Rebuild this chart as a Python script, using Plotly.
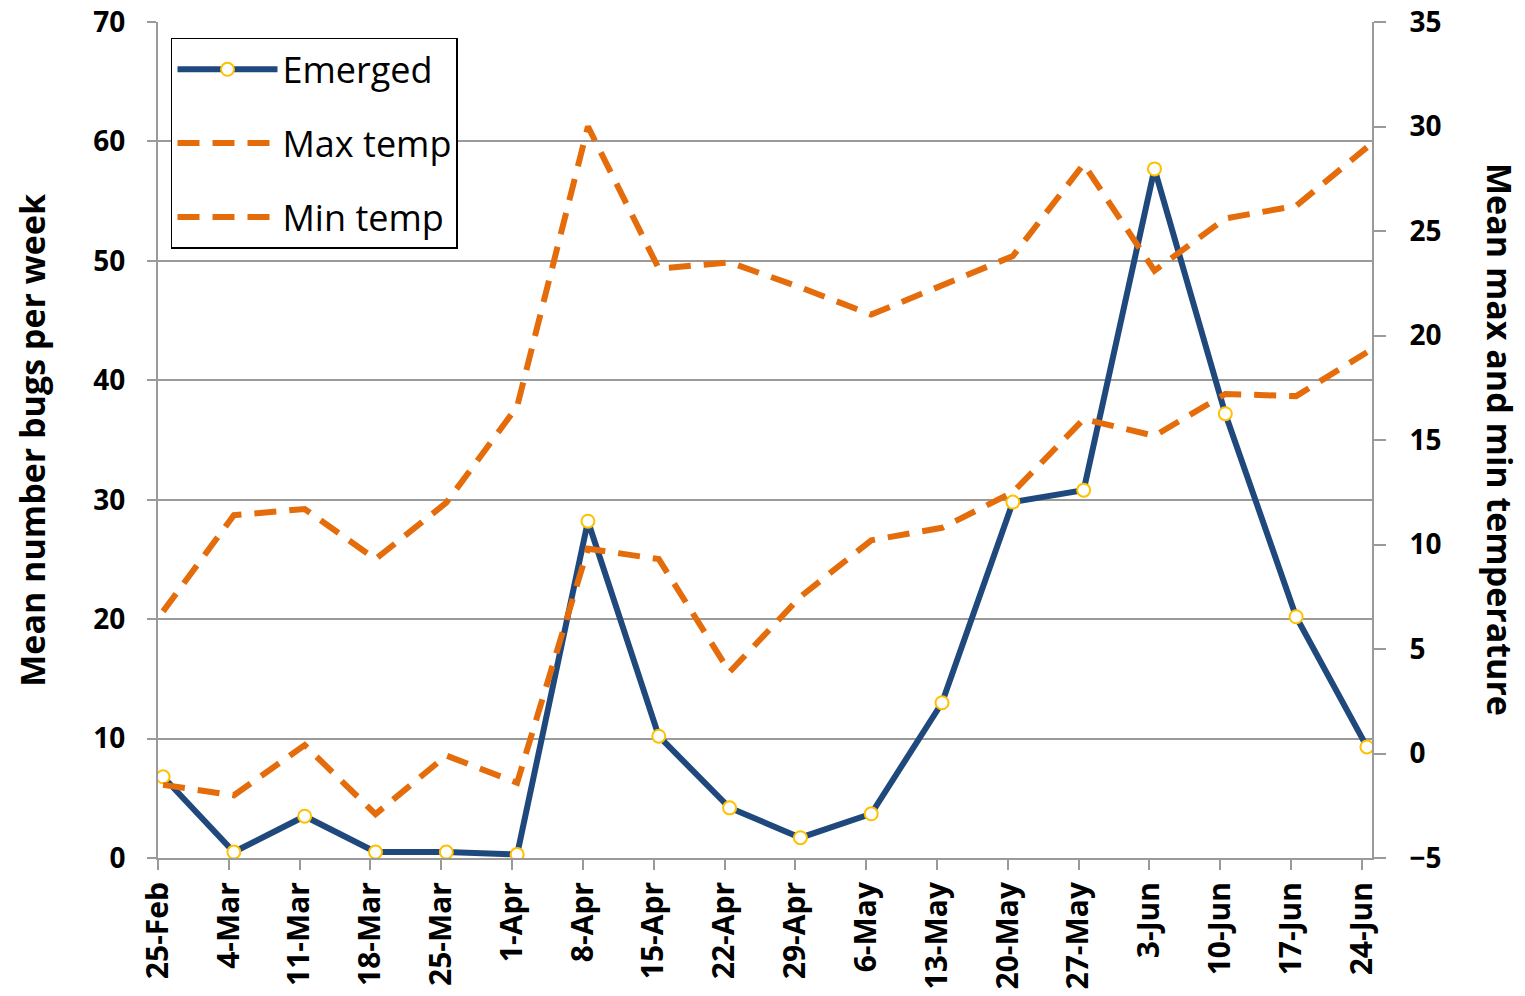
import plotly.graph_objects as go

weeks = ["25-Feb", "4-Mar", "11-Mar", "18-Mar", "25-Mar", "1-Apr", "8-Apr", "15-Apr",
         "22-Apr", "29-Apr", "6-May", "13-May", "20-May", "27-May", "3-Jun", "10-Jun",
         "17-Jun", "24-Jun"]
emerged = [6.8, 0.5, 3.5, 0.5, 0.5, 0.3, 28.2, 10.2, 4.2, 1.7, 3.7, 13.0, 29.8, 30.8,
           57.7, 37.2, 20.2, 9.3]
max_temp = [6.8, 11.4, 11.7, 9.3, 12.0, 16.6, 30.0, 23.2, 23.5, 22.3, 21.0, 22.4, 23.8,
            28.2, 23.1, 25.6, 26.2, 29.0]
min_temp = [-1.5, -2.0, 0.4, -2.9, -0.1, -1.4, 9.8, 9.3, 3.9, 7.5, 10.2, 10.8, 12.5,
            16.0, 15.2, 17.2, 17.1, 19.2]

# date axis: one unit per day, weekly points sit in the middle of their day
day = [7 * i for i in range(len(weeks))]
xpos = [d + 0.5 for d in day]

FONT = "Open Sans"
BLUE = "#1F497D"
ORANGE = "#E46C0A"
GRID = "#9A9A9A"

fig = go.Figure()

fig.add_trace(go.Scatter(
    x=xpos, y=emerged, name="Emerged", mode="lines+markers", legendgroup="a",
    line=dict(color=BLUE, width=6),
    marker=dict(size=13, color="white", line=dict(color="#FFC000", width=2)),
))
fig.add_trace(go.Scatter(
    x=xpos, y=max_temp, name="Max temp", mode="lines", yaxis="y2", legendgroup="b",
    line=dict(color=ORANGE, width=6, dash="22px,13px"),
))
fig.add_trace(go.Scatter(
    x=xpos, y=min_temp, name="Min temp", mode="lines", yaxis="y2", legendgroup="c",
    line=dict(color=ORANGE, width=6, dash="22px,13px"),
))

tickfont = dict(family=FONT, size=28, color="black", weight="bold")

# the page puts the figure 8px in from the top-left corner
fig.update_layout(
    width=1517, height=988,
    margin=dict(l=150, r=153, t=14, b=138, autoexpand=False),
    plot_bgcolor="white", paper_bgcolor="white",
    font=dict(family=FONT, color="black"),
    showlegend=True,
    legend=dict(
        x=0.0107, y=0.981, xanchor="left", yanchor="top",
        bgcolor="white", bordercolor="black", borderwidth=1.5,
        font=dict(family=FONT, size=36, color="black"),
        traceorder="grouped", tracegroupgap=24, itemwidth=100,
    ),
    xaxis=dict(
        range=[0, 120], tickmode="array", tickvals=day, ticktext=weeks,
        tickangle=-90, tickfont=dict(family=FONT, size=30, color="black", weight="bold"),
        showline=True, linecolor=GRID, linewidth=2, automargin=False,
        ticklabeloverflow="allow",
        ticks="outside", ticklen=10, tickcolor=GRID, tickwidth=2,
        showgrid=False, zeroline=False,
    ),
    yaxis=dict(
        range=[0, 70], dtick=10, tickfont=tickfont, automargin=False,
        showline=True, linecolor=GRID, linewidth=2, ticklabelstandoff=16,
        ticklabeloverflow="allow",
        ticks="outside", ticklen=9, tickcolor=GRID, tickwidth=2,
        showgrid=True, gridcolor=GRID, gridwidth=2, zeroline=False,
    ),
    yaxis2=dict(
        range=[-5, 35], dtick=5, tickfont=tickfont, overlaying="y", side="right",
        showline=True, linecolor=GRID, linewidth=2, automargin=False,
        ticklabelstandoff=18, ticklabeloverflow="allow",
        ticks="outside", ticklen=12, tickcolor=GRID, tickwidth=2,
        showgrid=False, zeroline=False,
    ),
    annotations=[
        dict(text="Mean number bugs per week", textangle=-90, xref="paper", yref="paper",
             x=-0.104, y=0.5, xanchor="center", yanchor="middle", showarrow=False,
             font=dict(family=FONT, size=34, color="black", weight="bold")),
        dict(text="Mean max and min temperature", textangle=90, xref="paper", yref="paper",
             x=1.1054, y=0.5, xanchor="center", yanchor="middle", showarrow=False,
             font=dict(family=FONT, size=34, color="black", weight="bold")),
    ],
)

fig.write_html("out.html")
